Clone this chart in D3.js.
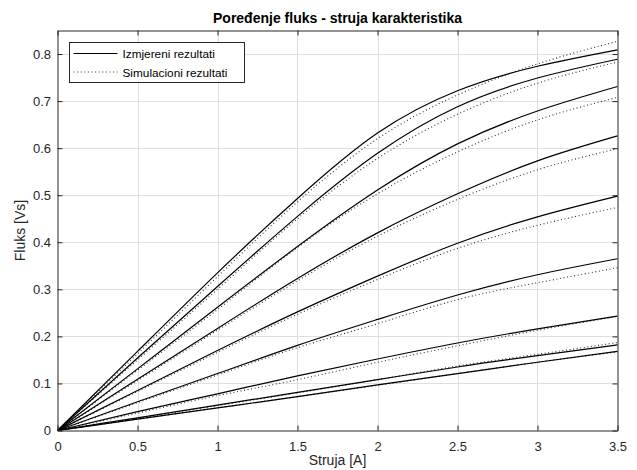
<!DOCTYPE html>
<html lang="en">
  <head>
    <meta charset="UTF-8" />
    <title>flux-current</title>
    <style>
      body {
        margin: 0;
        background: #fff;
        font-family: "Liberation Sans", Arial, Helvetica, sans-serif;
      }
      .tick-label {
        font-size: 13px;
        fill: #262626;
      }
      .grid line {
        stroke: #dfdfdf;
        stroke-width: 1;
      }
      .measured {
        fill: none;
        stroke: #000;
        stroke-width: 1.2;
      }
      .simulated {
        fill: none;
        stroke: #333;
        stroke-width: 1.1;
        stroke-dasharray: 1, 2.6;
      }
    </style>
  </head>
  <body>
    <script src="https://cdn.jsdelivr.net/npm/d3@7"></script>
    <script>
      // struja [A]
      const current = [0, 0.5, 1, 1.5, 2, 2.5, 3, 3.5];

      // izmjereni rezultati (puna linija)
      const measured = [
        [0, 0.168, 0.335, 0.493, 0.632, 0.722, 0.774, 0.809],
        [0, 0.154, 0.306, 0.455, 0.589, 0.688, 0.749, 0.789],
        [0, 0.131, 0.262, 0.391, 0.511, 0.609, 0.679, 0.731],
        [0, 0.109, 0.217, 0.323, 0.420, 0.503, 0.573, 0.626],
        [0, 0.085, 0.170, 0.252, 0.328, 0.398, 0.454, 0.498],
        [0, 0.061, 0.121, 0.181, 0.236, 0.288, 0.331, 0.365],
        [0, 0.040, 0.078, 0.116, 0.152, 0.186, 0.216, 0.243],
        [0, 0.027, 0.054, 0.081, 0.108, 0.135, 0.159, 0.182],
        [0, 0.024, 0.048, 0.072, 0.097, 0.121, 0.145, 0.168]
      ];

      // simulacioni rezultati (tackasta linija)
      const simulated = [
        [0, 0.163, 0.327, 0.486, 0.620, 0.713, 0.779, 0.827],
        [0, 0.150, 0.300, 0.450, 0.578, 0.672, 0.738, 0.783],
        [0, 0.128, 0.257, 0.389, 0.503, 0.592, 0.660, 0.708],
        [0, 0.106, 0.213, 0.318, 0.413, 0.491, 0.554, 0.599],
        [0, 0.083, 0.166, 0.247, 0.321, 0.387, 0.436, 0.474],
        [0, 0.059, 0.118, 0.176, 0.227, 0.278, 0.314, 0.346],
        [0, 0.037, 0.074, 0.108, 0.145, 0.180, 0.213, 0.2425],
        [0, 0.026, 0.053, 0.080, 0.108, 0.137, 0.162, 0.187],
        [0, 0.024, 0.048, 0.072, 0.096, 0.121, 0.145, 0.167]
      ];

      const xTicks = [0, 0.5, 1, 1.5, 2, 2.5, 3, 3.5];
      const yTicks = [0, 0.1, 0.2, 0.3, 0.4, 0.5, 0.6, 0.7, 0.8];
      const legendLabels = ["Izmjereni rezultati", "Simulacioni rezultati"];

      const width = 637;
      const height = 470;
      const axLeft = 57.5;
      const axRight = 617.5;
      const axTop = 30.5;
      const axBottom = 430.5;
      const tickLen = 5;

      const x = d3.scaleLinear().domain([0, 3.5]).range([axLeft, axRight]);
      const y = d3.scaleLinear().domain([0, 0.85]).range([axBottom, axTop]);

      const svg = d3
        .select("body")
        .append("svg")
        .attr("width", width)
        .attr("height", height);

      // grid
      const grid = svg.append("g").attr("class", "grid");
      grid
        .selectAll(".gx")
        .data(xTicks.slice(1, -1))
        .join("line")
        .attr("class", "gx")
        .attr("x1", (d) => Math.round(x(d)) + 0.5)
        .attr("x2", (d) => Math.round(x(d)) + 0.5)
        .attr("y1", axTop)
        .attr("y2", axBottom);
      grid
        .selectAll(".gy")
        .data(yTicks.slice(1))
        .join("line")
        .attr("class", "gy")
        .attr("y1", (d) => Math.round(y(d)) + 0.5)
        .attr("y2", (d) => Math.round(y(d)) + 0.5)
        .attr("x1", axLeft)
        .attr("x2", axRight);

      // curves
      const line = d3
        .line()
        .x((d, i) => x(current[i]))
        .y((d) => y(d))
        .curve(d3.curveNatural);

      svg
        .append("g")
        .selectAll("path")
        .data(simulated)
        .join("path")
        .attr("class", "simulated")
        .attr("d", line);
      svg
        .append("g")
        .selectAll("path")
        .data(measured)
        .join("path")
        .attr("class", "measured")
        .attr("d", line);

      // axes (box with inward ticks on all sides)
      const axisColor = "#262626";
      const fmt = (d) => d3.format("")(d);
      const gx = svg
        .append("g")
        .attr("transform", `translate(0,${axBottom})`)
        .call(
          d3.axisBottom(x).tickValues(xTicks).tickSizeInner(-tickLen)
            .tickSizeOuter(0).tickPadding(11).tickFormat(fmt)
        );
      const gy = svg
        .append("g")
        .attr("transform", `translate(${axLeft},0)`)
        .call(
          d3.axisLeft(y).tickValues(yTicks).tickSizeInner(-tickLen)
            .tickSizeOuter(0).tickPadding(6).tickFormat(fmt)
        );
      svg
        .append("g")
        .attr("transform", `translate(0,${axTop})`)
        .call(d3.axisTop(x).tickValues(xTicks).tickSizeInner(-tickLen).tickSizeOuter(0).tickFormat(""));
      svg
        .append("g")
        .attr("transform", `translate(${axRight},0)`)
        .call(d3.axisRight(y).tickValues(yTicks).tickSizeInner(-tickLen).tickSizeOuter(0).tickFormat(""));

      svg.selectAll(".domain").attr("stroke", axisColor);
      svg.selectAll(".tick line").attr("stroke", axisColor);
      svg.selectAll("g[font-family]").attr("font-family", null).attr("font-size", null);
      svg.selectAll(".tick text").attr("class", "tick-label").attr("fill", null);
      gy.selectAll(".tick text").attr("x", -6.5);

      // title and axis labels
      svg
        .append("text")
        .attr("x", (axLeft + axRight) / 2)
        .attr("y", 23)
        .attr("text-anchor", "middle")
        .attr("font-size", 14)
        .attr("font-weight", "bold")
        .attr("fill", "#000")
        .text("Poređenje fluks - struja karakteristika");
      svg
        .append("text")
        .attr("x", (axLeft + axRight) / 2)
        .attr("y", 465)
        .attr("text-anchor", "middle")
        .attr("font-size", 14)
        .attr("fill", axisColor)
        .text("Struja [A]");
      svg
        .append("text")
        .attr("transform", `translate(25,${(axTop + axBottom) / 2}) rotate(-90)`)
        .attr("text-anchor", "middle")
        .attr("font-size", 14)
        .attr("fill", axisColor)
        .text("Fluks [Vs]");

      // legend
      const legend = svg.append("g").attr("transform", "translate(69.5,42.5)");
      legend
        .append("rect")
        .attr("width", 175)
        .attr("height", 40)
        .attr("fill", "#fff")
        .attr("stroke", axisColor)
        .attr("stroke-width", 1);
      legendLabels.forEach((label, i) => {
        const ly = 11 + i * 18.5;
        legend
          .append("line")
          .attr("x1", 4)
          .attr("x2", 48)
          .attr("y1", ly)
          .attr("y2", ly)
          .attr("class", i === 0 ? "measured" : "simulated");
        legend
          .append("text")
          .attr("x", 53)
          .attr("y", ly + 4.5)
          .attr("font-size", 11.8)
          .attr("fill", "#000")
          .text(label);
      });
    </script>
  </body>
</html>
